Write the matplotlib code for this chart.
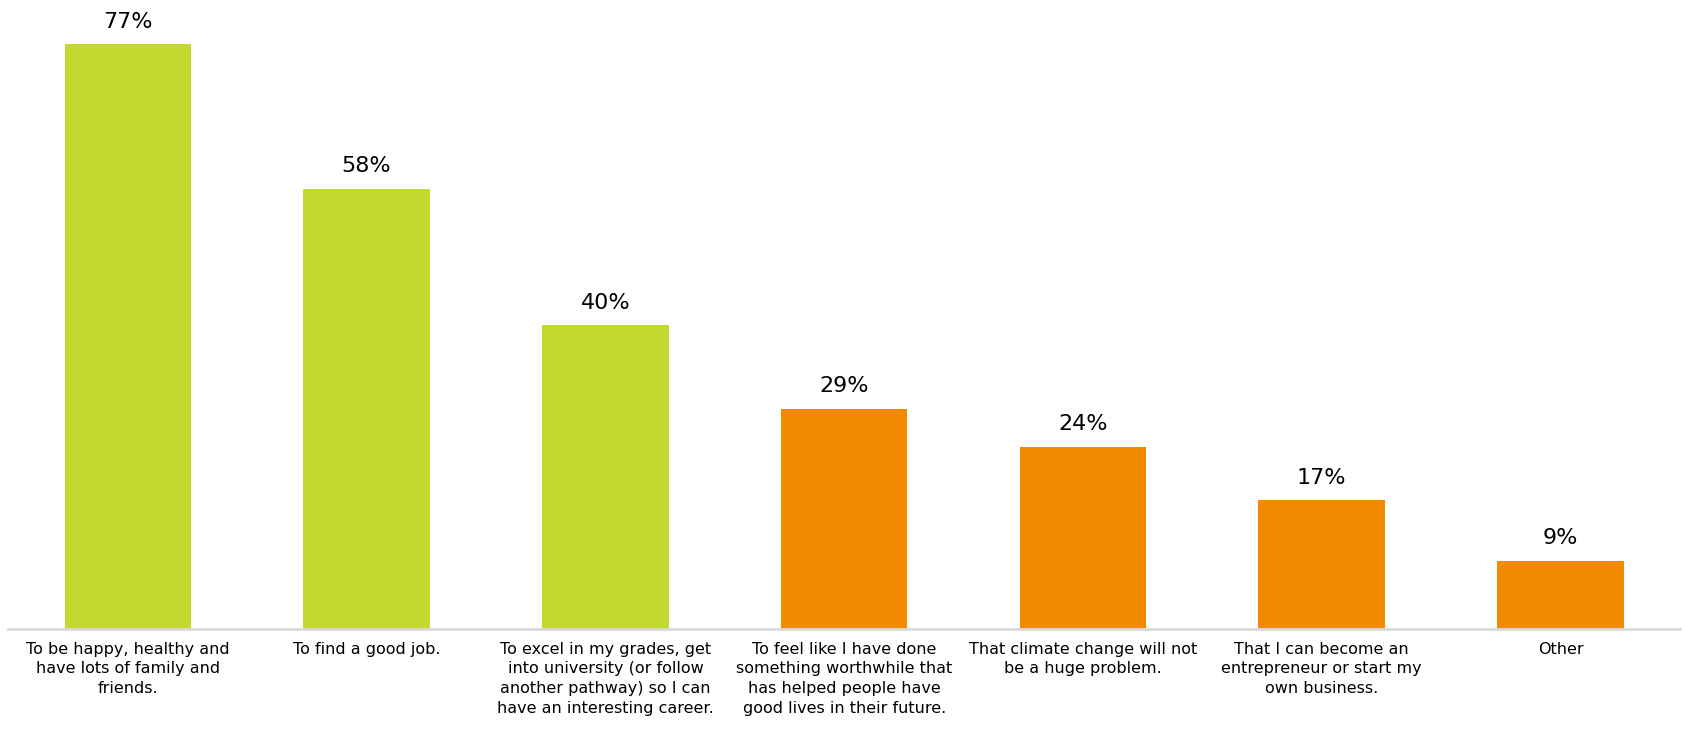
import matplotlib.pyplot as plt

# survey answers
categories = [
    "To be happy, healthy and\nhave lots of family and\nfriends.",
    "To find a good job.",
    "To excel in my grades, get\ninto university (or follow\nanother pathway) so I can\nhave an interesting career.",
    "To feel like I have done\nsomething worthwhile that\nhas helped people have\ngood lives in their future.",
    "That climate change will not\nbe a huge problem.",
    "That I can become an\nentrepreneur or start my\nown business.",
    "Other",
]
values = [77, 58, 40, 29, 24, 17, 9]
labels = ["77%", "58%", "40%", "29%", "24%", "17%", "9%"]

green = "#C3D92F"
orange = "#F28A00"
colors = [green] * 3 + [orange] * 4

fig = plt.figure(figsize=(16.85, 7.31), dpi=100)
ax = fig.add_axes([0.005, 0.139, 0.992, 0.861])

x = range(len(values))
bars = ax.bar(x, values, width=0.53, color=colors)

for b, lab in zip(bars, labels):
    ax.annotate(lab, (b.get_x() + b.get_width() / 2, b.get_height()),
                xytext=(0, 9), textcoords="offset points",
                ha="center", va="bottom", fontsize=16, color="#000000")

ax.set_xlim(-0.5, len(values) - 0.5)
ax.set_ylim(0, 82.8)
ax.set_xticks(list(x))
ax.set_xticklabels(categories, fontsize=11.5, linespacing=1.38)
ax.tick_params(axis="x", length=0, pad=9)
ax.set_yticks([])
for s in ["top", "right", "left"]:
    ax.spines[s].set_visible(False)
ax.spines["bottom"].set_color("#D9D9D9")
ax.spines["bottom"].set_linewidth(2)

fig.savefig("out.png", dpi=100)
